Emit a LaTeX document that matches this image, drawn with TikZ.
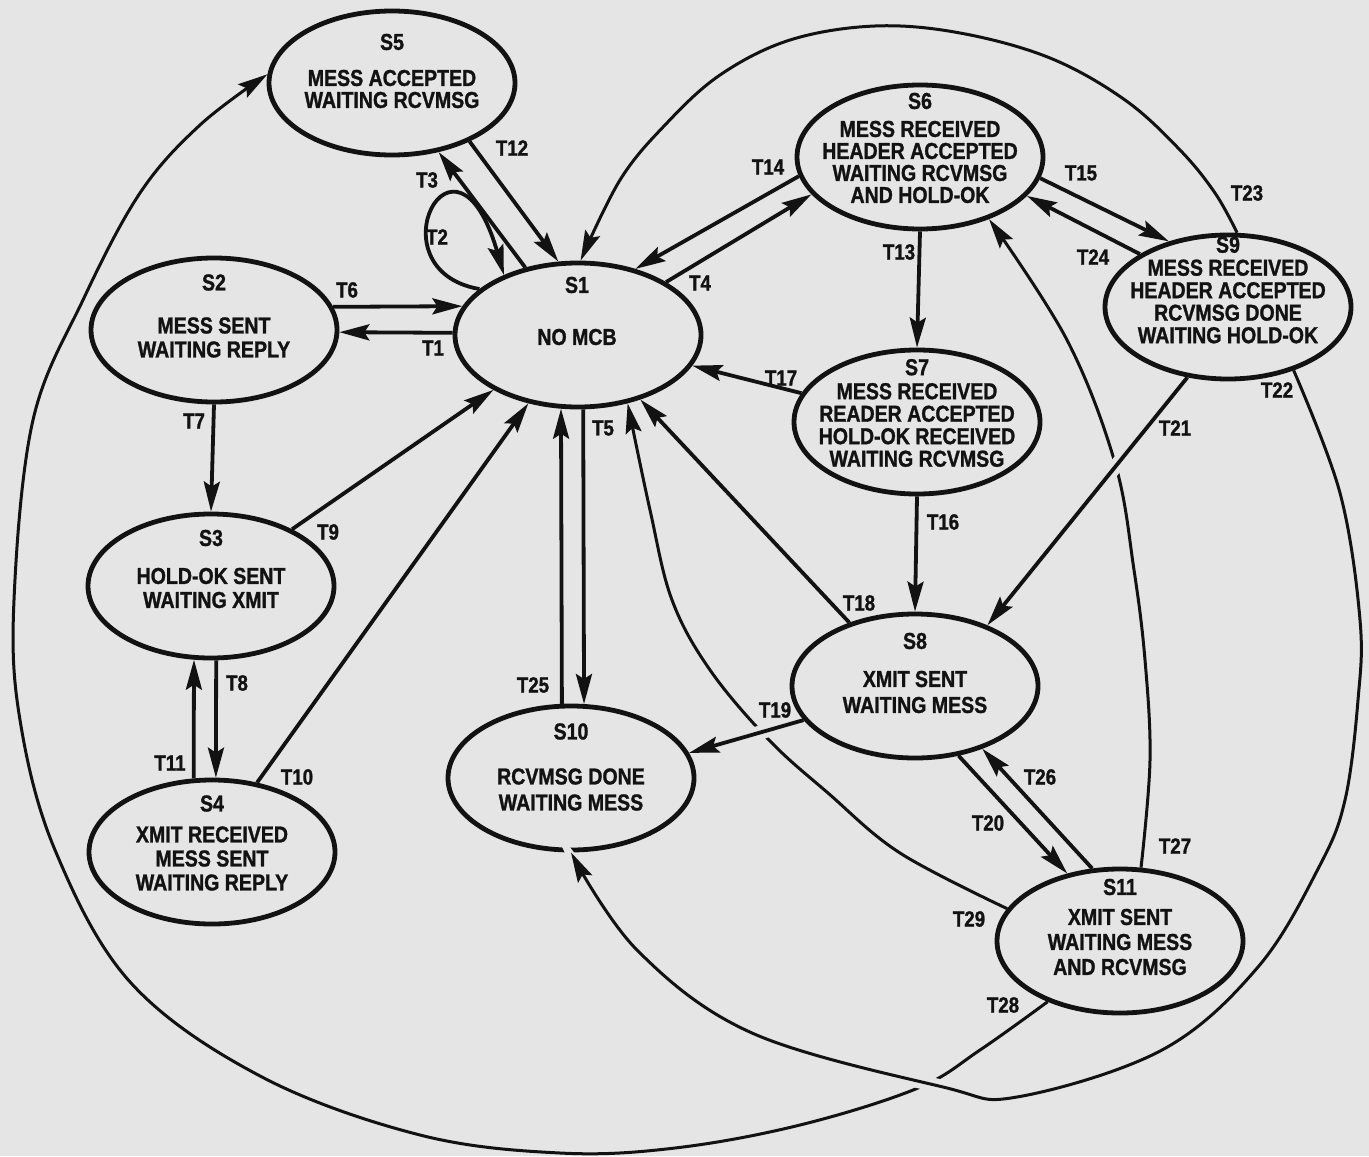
\documentclass[tikz,border=0pt]{standalone}
\usepackage{fontspec}
\setmainfont{Liberation Sans}[FakeStretch=0.85, BoldFeatures={FakeBold=1.2}]
\usepackage{xcolor}
\usetikzlibrary{arrows.meta, shapes.geometric}
\definecolor{Paper}{RGB}{229,229,229}
\definecolor{Ink}{RGB}{18,18,18}
\tikzset{
    % State styles
    statebox/.style={
        ellipse,
        draw=Ink,
        line width=2.4pt,
        minimum width=123pt,
        minimum height=72pt,
        inner sep=0pt
    },
    statetext/.style={
        align=center,
        text=Ink,
        inner sep=0pt,
        font=\fontsize{11.5}{12}\selectfont\bfseries
    },
    translabel/.style={
        text=Ink,
        inner sep=0pt,
        font=\fontsize{11}{12}\selectfont\bfseries
    },
    % Arrow styles
    myarrow/.style={
        -{Stealth[length=15pt,width=8pt,inset=2.5pt]},
        line width=1.9pt,
        Ink
    },
    curvearrow/.style={
        myarrow,
        line width=1.5pt
    },
    bridge/.style={
        preaction={draw=Paper, line width=7pt, arrows=-, shorten <=14pt, shorten >=20pt}
    }
}
\begin{document}
\begin{tikzpicture}[x=0.5pt,y=0.5pt]
    \useasboundingbox (0,0) rectangle (1369,-1156);
    \fill[Paper] (0,0) rectangle (1369,-1156);

    % States
    \node[statebox] (s1) at (578,-335) {};
    \node[statebox] (s2) at (214,-330) {};
    \node[statebox] (s3) at (211,-586) {};
    \node[statebox] (s4) at (212,-852) {};
    \node[statebox] (s5) at (392,-83) {};
    \node[statebox] (s6) at (920,-157) {};
    \node[statebox] (s7) at (917,-422) {};
    \node[statebox] (s8) at (915,-686) {};
    \node[statebox] (s9) at (1228,-307) {};
    \node[statebox] (s10) at (571,-778) {};
    \node[statebox] (s11) at (1120,-941) {};

    % State texts
    \node[statetext] (s1t) at (577,-311) {S1\\[14pt]NO MCB};
    \node[statetext] (s2t) at (214,-316) {S2\\[9.5pt]MESS SENT\\WAITING REPLY};
    \node[statetext] (s3t) at (211,-569) {S3\\[7pt]HOLD-OK SENT\\WAITING XMIT};
    \node[statetext] (s4t) at (212,-843) {S4\\[3.5pt]XMIT RECEIVED\\MESS SENT\\WAITING REPLY};
    \node[statetext] (s5t) at (392,-71) {S5\\[6pt]MESS ACCEPTED\\[-1pt]WAITING RCVMSG};
    \node[statetext] (s6t) at (920,-148) {S6\\[2pt]MESS RECEIVED\\[-1pt]HEADER ACCEPTED\\[-1pt]WAITING RCVMSG\\[-1pt]AND HOLD-OK};
    \node[statetext] (s7t) at (917,-413) {S7\\MESS RECEIVED\\[-0.75pt]READER ACCEPTED\\[-0.75pt]HOLD-OK RECEIVED\\[-0.75pt]WAITING RCVMSG};
    \node[statetext] (s8t) at (915,-673) {S8\\[7pt]XMIT SENT\\[1pt]WAITING MESS};
    \node[statetext] (s9t) at (1228,-290) {S9\\[-0.5pt]MESS RECEIVED\\[-0.75pt]HEADER ACCEPTED\\[-0.75pt]RCVMSG DONE\\[-0.75pt]WAITING HOLD-OK};
    \node[statetext] (s10t) at (571,-767) {S10\\[10.5pt]RCVMSG DONE\\[1pt]WAITING MESS};
    \node[statetext] (s11t) at (1120,-927) {S11\\[3pt]XMIT SENT\\[0.5pt]WAITING MESS\\[0.5pt]AND RCVMSG};

    % Straight transitions
    \draw[myarrow] (s1.179) -- (s2.359);
    \draw[myarrow] (s1.155) .. controls (370,-270) and (455,-105) .. (s1.141);
    \draw[myarrow] (s1.128) -- (s5.304);
    \draw[myarrow] (s1.31) -- (s6.199);
    \draw[myarrow] (s1.274) -- (s10.80.5);
    \draw[myarrow] (s2.11) -- (s1.166);
    \draw[myarrow] (s2.south) -- (s3.north);
    \draw[myarrow] (s3.274) -- (s4.87);
    \draw[myarrow] (s3.35) -- (s1.213.5);
    \draw[myarrow] (s4.57) -- (s1.234);
    \draw[myarrow] (s4.104) -- (s3.257);
    \draw[myarrow] (s5.323.5) -- (s1.105);
    \draw[myarrow] (s6.south) -- (s7.north);
    \draw[myarrow] (s6.189) -- (s1.49);
    \draw[myarrow] (s6.350) -- (s9.132);
    \draw[myarrow] (s7.south) -- (s8.north);
    \draw[myarrow] (s7.166) -- (s1.345);
    \draw[myarrow] (s8.136) -- (s1.314);
    \draw[myarrow] (s8.302) -- (s11.128);
    \draw[myarrow] (s9.149) -- (s6.340);
    \draw[myarrow] (s10.97) -- (s1.257.5);
    \draw[myarrow] (s11.111) -- (s8.317);

    % Long curved transitions
    \draw[curvearrow] plot[smooth,tension=0.6] coordinates {(s9.83) (1215,-193) (1180,-150) (1125,-100) (1050,-58) (960,-33) (875,-26) (790,-40) (720,-75) (665,-125) (620,-180) (s1.88)};
    \draw[curvearrow] plot[smooth,tension=0.6] coordinates {(s11.74.5) (1150,-760) (1145,-660) (1134,-570) (1115,-463) (1067,-340) (s6.318)};
    \draw[curvearrow] plot[smooth,tension=0.6] coordinates {(s11.164) (900,-853) (828,-793) (769,-740) (710,-670) (672,-600) (650,-510) (s1.306)};
    \draw[curvearrow] plot[smooth,tension=0.6] coordinates {(s11.220) (980,-1050) (918,-1088) (800,-1125) (675,-1148) (560,-1153) (420,-1135) (262,-1077) (131,-983) (55,-850) (20,-720) (14,-600) (33,-420) (83,-300) (140,-193) (200,-125) (s5.176)};

    % Transitions drawn over crossings
    \draw[myarrow,bridge] (s8.197.5) -- (s10.12);
    \draw[myarrow,bridge] (s9.240) -- (s8.40);
    \draw[curvearrow,bridge] plot[smooth,tension=0.6] coordinates {(s9.316) (1340,-493) (1360,-620) (1358,-700) (1345,-800) (1319,-867) (1258,-967) (1162,-1050) (1017,-1097) (943,-1087) (752,-1033) (637,-950) (s10.270)};

    % Transition labels
    \node[translabel] (t1) at (433,-348) {T1};
    \node[translabel] (t2) at (437,-237) {T2};
    \node[translabel] (t3) at (427,-180) {T3};
    \node[translabel] (t4) at (700,-283) {T4};
    \node[translabel] (t5) at (603,-428) {T5};
    \node[translabel] (t6) at (347,-290) {T6};
    \node[translabel] (t7) at (194,-421) {T7};
    \node[translabel] (t8) at (237,-683) {T8};
    \node[translabel] (t9) at (328,-532) {T9};
    \node[translabel] (t10) at (297,-777) {T10};
    \node[translabel] (t11) at (170,-763) {T11};
    \node[translabel] (t12) at (512,-148) {T12};
    \node[translabel] (t13) at (899,-252) {T13};
    \node[translabel] (t14) at (768,-167) {T14};
    \node[translabel] (t15) at (1081,-173) {T15};
    \node[translabel] (t16) at (943,-522) {T16};
    \node[translabel] (t17) at (781,-378) {T17};
    \node[translabel] (t18) at (859,-603) {T18};
    \node[translabel] (t19) at (775,-710) {T19};
    \node[translabel] (t20) at (988,-823) {T20};
    \node[translabel] (t21) at (1175,-428) {T21};
    \node[translabel] (t22) at (1277,-390) {T22};
    \node[translabel] (t23) at (1247,-193) {T23};
    \node[translabel] (t24) at (1093,-257) {T24};
    \node[translabel] (t25) at (533,-685) {T25};
    \node[translabel] (t26) at (1040,-777) {T26};
    \node[translabel] (t27) at (1175,-846) {T27};
    \node[translabel] (t28) at (1003,-1005) {T28};
    \node[translabel] (t29) at (969,-919) {T29};
\end{tikzpicture}
\end{document}
